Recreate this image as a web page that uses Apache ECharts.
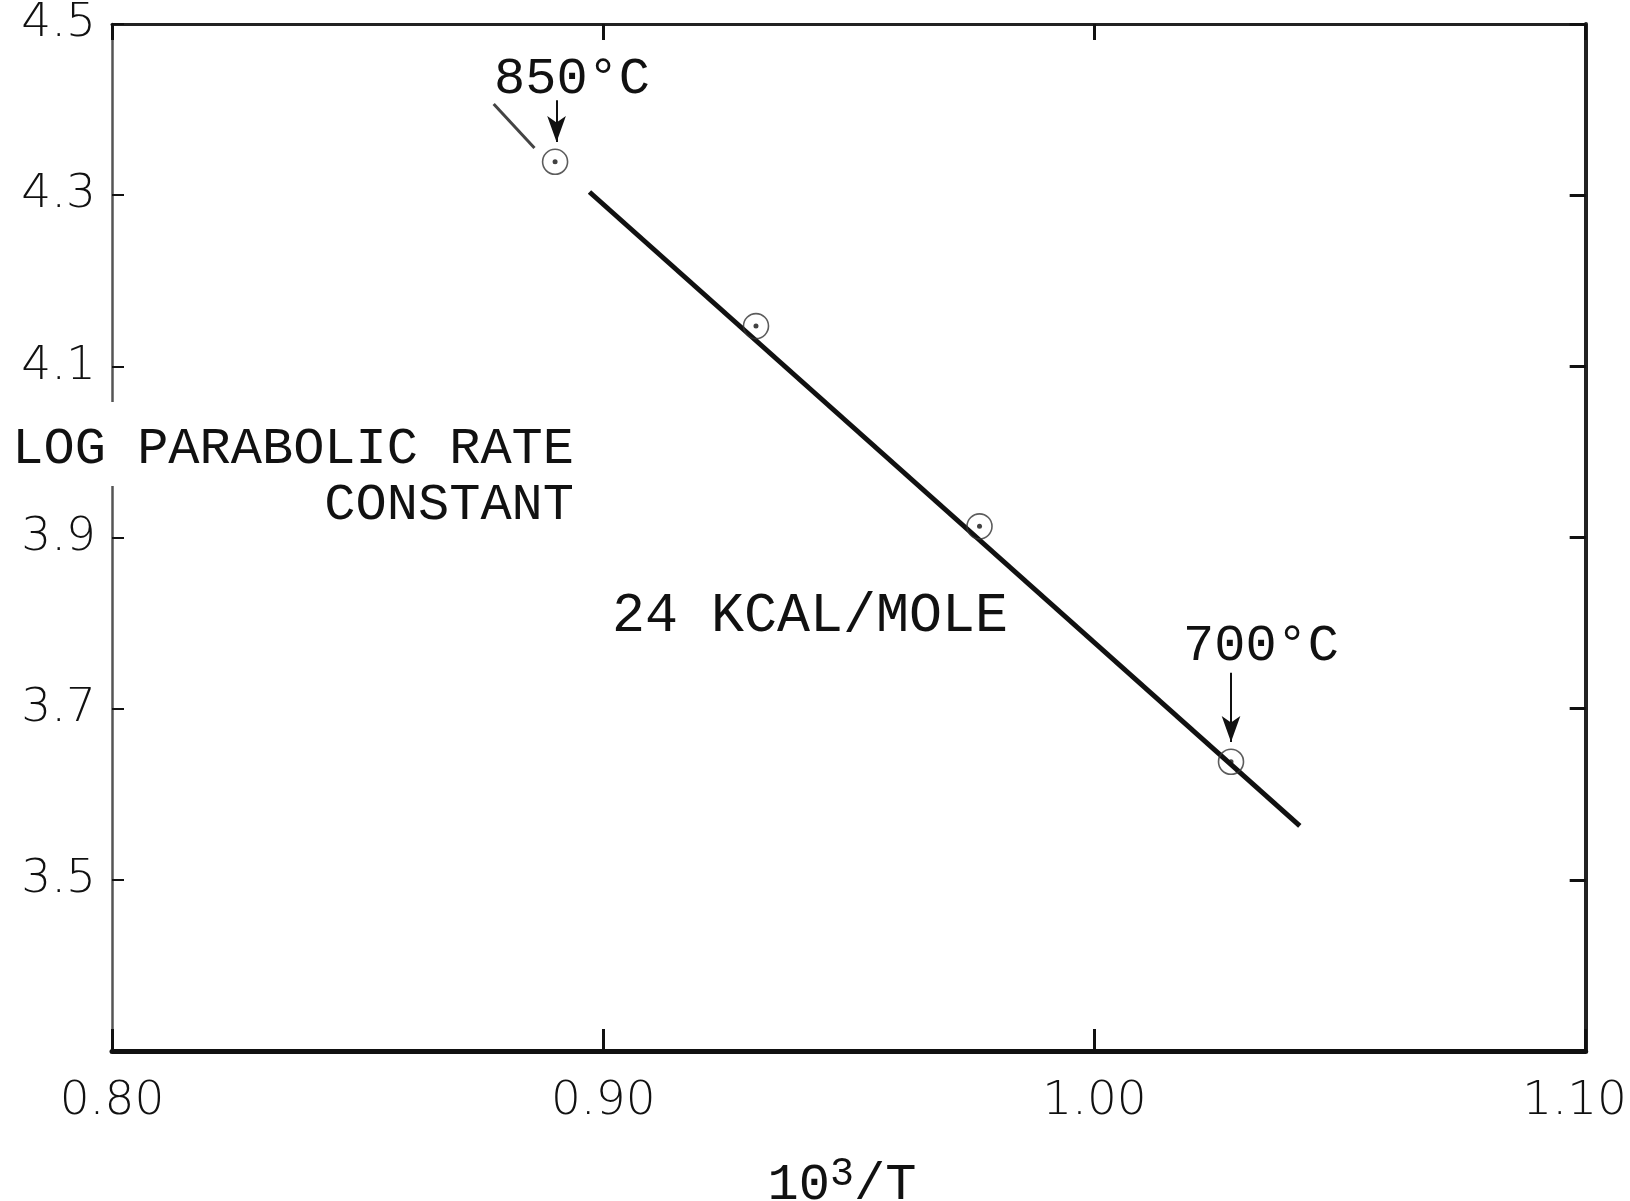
<!DOCTYPE html>
<html>
<head>
<meta charset="utf-8">
<title>Log parabolic rate constant vs 10^3/T</title>
<script src="https://cdn.jsdelivr.net/npm/echarts@6/dist/echarts.min.js"></script>
<style>
  html, body { margin: 0; padding: 0; background: #fff; }
  #chart { width: 1630px; height: 1201px; }
</style>
</head>
<body>
<div id="chart"></div>
<script>
// Tick labels
const xTickLabels = ['0.80', '0.90', '1.00', '1.10'];
const yTickLabels = ['3.5', '3.7', '3.9', '4.1', '4.3', '4.5'];

// Measured points: 10^3/T and log parabolic rate constant
const invTemp = [0.8902, 0.9311, 0.9766, 1.0278];
const logRate = [4.339, 4.147, 3.913, 3.638];

// Fitted Arrhenius line (24 kcal/mole), drawn in two pieces
const fitStubX = [0.8777, 0.8860];
const fitStubY = [4.4065, 4.355];
const fitLineX = [0.8972, 1.0418];
const fitLineY = [4.3037, 3.563];

// Temperature call-outs
const tempLabels = ['850°C', '700°C'];
const arrowX = [0.8905, 1.0278];
const arrowFromY = [4.411, 3.742];
const arrowToY = [4.362, 3.661];

const zip = (xs, ys) => xs.map((x, i) => [x, ys[i]]);

const MONO = "'Liberation Mono', 'DejaVu Sans Mono', monospace";
const TICKFONT = "'DejaVu Sans', sans-serif";
const INK = '#111';

const chart = echarts.init(document.getElementById('chart'), null, { renderer: 'canvas' });

const tickLabelStyle = { color: INK, fontFamily: TICKFONT, fontSize: 47, fontWeight: 200 };

chart.setOption({
  backgroundColor: '#fff',
  animation: false,
  grid: { left: 112, right: 43, top: 24, bottom: 150, containLabel: false },
  xAxis: [
    {
      type: 'value', position: 'bottom', min: 0.8, max: 1.1, interval: 0.1,
      axisLine: { show: true, onZero: false, lineStyle: { color: INK, width: 5 } },
      axisTick: { show: true, inside: true, length: 22, lineStyle: { color: INK, width: 3 } },
      splitLine: { show: false },
      axisLabel: Object.assign({}, tickLabelStyle, {
        margin: 27,
        formatter: (v, i) => i === xTickLabels.length - 1 ? '{last|' + xTickLabels[i] + '}' : xTickLabels[i],
        rich: { last: Object.assign({}, tickLabelStyle, { padding: [0, 22, 0, 0] }) }
      })
    },
    {
      type: 'value', position: 'top', min: 0.8, max: 1.1, interval: 0.1,
      axisLine: { show: true, onZero: false, lineStyle: { color: '#222', width: 3 } },
      axisTick: { show: true, inside: true, length: 16, lineStyle: { color: INK, width: 3 } },
      splitLine: { show: false },
      axisLabel: { show: false }
    }
  ],
  yAxis: [
    {
      type: 'value', position: 'left', min: 3.3, max: 4.5, interval: 0.2,
      axisLine: { show: true, onZero: false, lineStyle: { color: '#555', width: 2.5 } },
      axisTick: { show: true, inside: true, length: 12, lineStyle: { color: INK, width: 2 } },
      splitLine: { show: false },
      axisLabel: Object.assign({}, tickLabelStyle, {
        margin: 16,
        formatter: v => {
          const s = v.toFixed(1);
          return yTickLabels.includes(s) ? s : '';
        }
      })
    },
    {
      type: 'value', position: 'right', min: 3.3, max: 4.5, interval: 0.2,
      axisLine: { show: true, onZero: false, lineStyle: { color: '#222', width: 4 } },
      axisTick: { show: true, inside: true, length: 16, lineStyle: { color: INK, width: 3 } },
      splitLine: { show: false },
      axisLabel: { show: false }
    }
  ],
  series: [
    {
      name: 'fit-stub', type: 'line', data: zip(fitStubX, fitStubY),
      symbol: 'none', lineStyle: { color: '#444', width: 3 }, silent: true, z: 3
    },
    {
      name: 'fit', type: 'line', data: zip(fitLineX, fitLineY),
      symbol: 'none', lineStyle: { color: INK, width: 5 }, silent: true, z: 3
    },
    {
      name: 'points', type: 'scatter', data: zip(invTemp, logRate),
      symbol: 'circle', symbolSize: 25,
      itemStyle: { color: 'rgba(255,255,255,0)', borderColor: '#333', borderWidth: 1.6 },
      silent: true, z: 4,
      markLine: {
        silent: true,
        symbol: ['none', 'arrow'],
        label: { show: false },
        lineStyle: { color: INK, width: 2, type: 'solid' },
        data: arrowX.map((x, i) => [
          { coord: [x, arrowFromY[i]], symbol: 'none' },
          { coord: [x, arrowToY[i]], symbol: 'arrow', symbolSize: [14, 26] }
        ])
      }
    },
    {
      name: 'point-centres', type: 'scatter', data: zip(invTemp, logRate),
      symbol: 'circle', symbolSize: 5, itemStyle: { color: INK }, silent: true, z: 5
    }
  ],
  graphic: [
    // break in the left frame behind the axis title
    { type: 'rect', shape: { x: 100, y: 402, width: 26, height: 84 }, style: { fill: '#fff' }, z: 100 },
    {
      type: 'text', x: 574, y: 477, z: 101,
      style: {
        text: 'LOG PARABOLIC RATE\nCONSTANT', fill: INK, font: '52px ' + MONO,
        align: 'right', verticalAlign: 'middle', textAlign: 'right', textVerticalAlign: 'middle',
        lineHeight: 56
      }
    },
    {
      type: 'text', x: 810, y: 616, z: 101,
      style: {
        text: '24 KCAL/MOLE', fill: INK, font: '55px ' + MONO,
        align: 'center', verticalAlign: 'middle', textAlign: 'center', textVerticalAlign: 'middle'
      }
    },
    {
      type: 'text', x: 572, y: 79, z: 101,
      style: {
        text: tempLabels[0], fill: INK, font: '52px ' + MONO,
        align: 'center', verticalAlign: 'middle', textAlign: 'center', textVerticalAlign: 'middle'
      }
    },
    {
      type: 'text', x: 1261, y: 646, z: 101,
      style: {
        text: tempLabels[1], fill: INK, font: '52px ' + MONO,
        align: 'center', verticalAlign: 'middle', textAlign: 'center', textVerticalAlign: 'middle'
      }
    },
    {
      type: 'text', x: 842, y: 1185, z: 101,
      style: {
        text: '10{sup|3}/T', fill: INK, font: '52px ' + MONO,
        align: 'center', verticalAlign: 'middle', textAlign: 'center', textVerticalAlign: 'middle',
        rich: {
          sup: { fontFamily: MONO, fontSize: 40, fill: INK, color: INK, padding: [0, 0, 22, 0] }
        }
      }
    }
  ]
});
</script>
</body>
</html>
